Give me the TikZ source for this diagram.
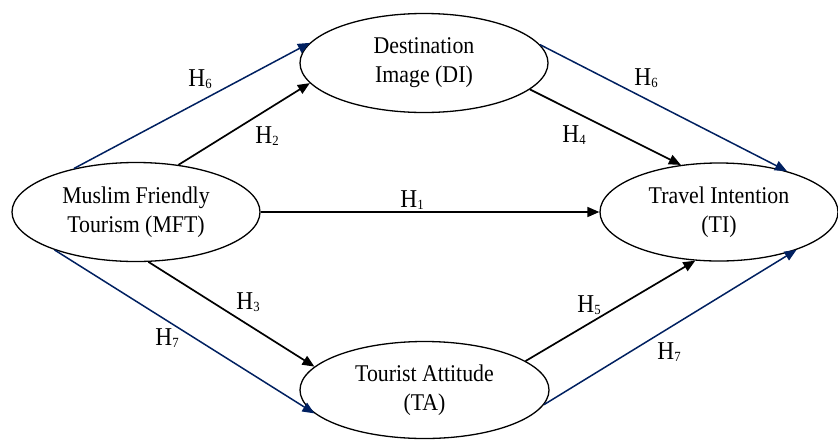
\documentclass[tikz,border=0pt]{standalone}
\usepackage{fontspec}
\setmainfont{Liberation Serif}[FakeStretch=0.91]
\usetikzlibrary{shapes.geometric,arrows.meta}
\definecolor{navy}{RGB}{0,32,96}
% hypothesis label: H with a small, slightly lowered index
\newcommand\hyp[1]{H\raisebox{-1.5pt}{\fontsize{14}{14}\selectfont #1}}
\begin{document}
\begin{tikzpicture}[x=1pt,y=-1pt,
  construct/.style={ellipse,draw,line width=1.3pt,inner sep=0pt,
    minimum width=248pt,minimum height=99pt,align=center,
    font=\fontsize{24}{29}\selectfont},
  direct/.style={line width=1.7pt,-{Triangle[length=12pt,width=10pt]}},
  mediated/.style={line width=1.5pt,draw=navy,-{Triangle[length=12pt,width=10pt]},navy},
  hlabel/.style={inner sep=0pt,font=\fontsize{25.7}{28}\selectfont}]
\useasboundingbox (0,0) rectangle (838,440);

% constructs
\node[construct] (MFT) at (136,212) {Muslim Friendly\\Tourism (MFT)};
\node[construct] (DI)  at (424,63)  {Destination\\Image (DI)};
\node[construct,minimum width=238pt,minimum height=98pt] (TI) at (719,212) {Travel Intention\\(TI)};
\node[construct,minimum width=249pt,minimum height=97pt] (TA) at (424.5,390) {Tourist Attitude\\(TA)};

% direct paths
\draw[direct] (MFT.east) -- (TI.west);
\draw[direct] (MFT.48) -- (DI.190);
\draw[direct] (MFT.-76.5) -- (TA.168);
\draw[direct] (DI.-14.8) -- (TI.129.6);
\draw[direct] (TA.16.6) -- (TI.244.9);

% mediated paths
\draw[mediated] (MFT.145) -- (DI.170);
\draw[mediated] (DI.9.8) -- (TI.31.9);
\draw[mediated] (MFT.205.7) -- (TA.192.4);
\draw[mediated] (TA.-7.4) -- (TI.-26.9);

% hypothesis labels
\node[hlabel] (h1)  at (412,200) {\hyp{1}};
\node[hlabel] (h2)  at (267,136) {\hyp{2}};
\node[hlabel] (h3)  at (248,302) {\hyp{3}};
\node[hlabel] (h4)  at (574,135) {\hyp{4}};
\node[hlabel] (h5)  at (589,305) {\hyp{5}};
\node[hlabel] (h6a) at (200,79)  {\hyp{6}};
\node[hlabel] (h6b) at (646,78)  {\hyp{6}};
\node[hlabel] (h7a) at (167,338) {\hyp{7}};
\node[hlabel] (h7b) at (669,352) {\hyp{7}};
\end{tikzpicture}
\end{document}
